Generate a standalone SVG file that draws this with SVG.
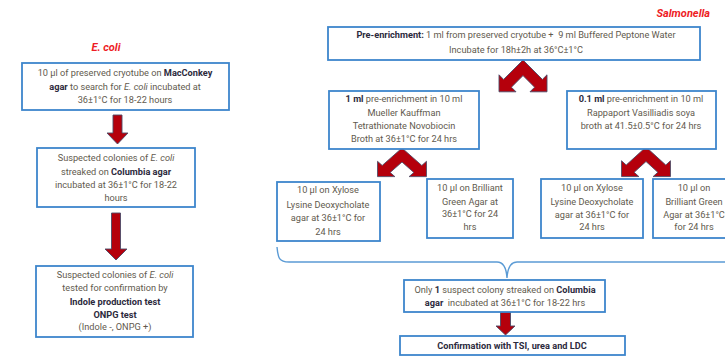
<svg xmlns="http://www.w3.org/2000/svg" width="725" height="356" viewBox="0 0 725 356">
<style>
.box{fill:#fff;stroke:#3d86cc;stroke-width:1.8}
.t{font-family:Roboto,"Liberation Sans",sans-serif;font-size:9.2px;fill:#625a4e;text-anchor:middle}
.b{font-weight:bold;fill:#2c2a3c}
.i{font-style:italic}
.title{font-family:Roboto,"Liberation Sans",sans-serif;font-size:11px;font-weight:bold;font-style:italic;fill:#ee1c25}
.arr{fill:#b5000c;stroke:#4c4a66;stroke-width:0.9}
.brace{fill:none;stroke:#5b9bd5;stroke-width:1.4}
</style>
<defs>
<polygon id="chev" points="0,0 19.4,19.4 24,14.8 24,31.8 7,31.8 11.6,27.2 0,15.6 -11.6,27.2 -7,31.8 -24,31.8 -24,14.8 -19.4,19.4"/>
</defs>
<rect width="725" height="356" fill="#fff"/>

<g id="titles">
<text class="title" x="106" y="51" text-anchor="middle">E. coli</text>
<text class="title" x="710" y="17" text-anchor="end">Salmonella</text>
</g>

<g id="connectors">
<polygon class="arr" points="113,115 122,115 122,133 128,133 117.5,144 107,133 113,133"/>
<polygon class="arr" points="111.5,213 120.5,213 120.5,249 127,249 116,260 105,249 111.5,249"/>
<polygon class="arr" points="500.5,312 510.5,312 510.5,326 515,326 505.5,335 496,326 500.5,326"/>
<use href="#chev" class="arr" transform="translate(523,60)"/>
<use href="#chev" class="arr" transform="translate(402,148) scale(1.02,0.9)"/>
<use href="#chev" class="arr" transform="translate(646,147) scale(1.02,0.93)"/>
<path class="brace" d="M277,247 C278,258 279,262 289,262 L497,262 Q506,262 507,278 Q508,262 517,262 L725,262"/>
</g>

<g id="ecoli1">
<rect class="box" x="22" y="63" width="207" height="47"/>
<text class="t" x="125" y="76">10 µl of preserved cryotube on <tspan class="b">MacConkey</tspan></text>
<text class="t" x="125" y="90"><tspan class="b">agar</tspan> to search for <tspan class="i">E. coli</tspan> incubated at</text>
<text class="t" x="125" y="103">36±1°C for 18-22 hours</text>
</g>

<g id="ecoli2">
<rect class="box" x="37" y="148" width="158" height="59"/>
<text class="t" x="116" y="161">Suspected colonies of <tspan class="i">E. coli</tspan></text>
<text class="t" x="116" y="175">streaked on <tspan class="b">Columbia agar</tspan></text>
<text class="t" x="116" y="188">incubated at 36±1°C for 18-22</text>
<text class="t" x="116" y="201">hours</text>
</g>

<g id="ecoli3">
<rect class="box" x="36" y="266" width="157" height="71"/>
<text class="t" x="115" y="278">Suspected colonies of <tspan class="i">E. coli</tspan></text>
<text class="t" x="115" y="291">tested for confirmation by</text>
<text class="t b" x="115" y="305">Indole production test</text>
<text class="t b" x="115" y="318">ONPG test</text>
<text class="t" x="115" y="330">(Indole -, ONPG +)</text>
</g>

<g id="preenrich">
<rect class="box" x="328" y="27" width="372" height="33"/>
<text class="t" x="516" y="38"><tspan class="b">Pre-enrichment:</tspan> 1 ml from preserved cryotube + &#160;9 ml Buffered Peptone Water</text>
<text class="t" x="516" y="53">Incubate for 18h±2h at 36°C±1°C</text>
</g>

<g id="mkttn">
<rect class="box" x="329" y="91" width="150" height="58"/>
<text class="t" x="404" y="102"><tspan class="b">1 ml</tspan> pre-enrichment in 10 ml</text>
<text class="t" x="404" y="116">Mueller Kauffman</text>
<text class="t" x="404" y="129">Tetrathionate Novobiocin</text>
<text class="t" x="404" y="142">Broth at 36±1°C for 24 hrs</text>
</g>

<g id="rvs">
<rect class="box" x="567" y="91" width="149" height="58"/>
<text class="t" x="641" y="102"><tspan class="b">0.1 ml</tspan> pre-enrichment in 10 ml</text>
<text class="t" x="641" y="116">Rappaport Vasilliadis soya</text>
<text class="t" x="641" y="129">broth at 41.5±0.5°C for 24 hrs</text>
</g>

<g id="xld1">
<rect class="box" x="277" y="182" width="103" height="59"/>
<text class="t" x="328" y="193">10 µl on Xylose</text>
<text class="t" x="328" y="208">Lysine Deoxycholate</text>
<text class="t" x="328" y="221">agar at 36±1°C for</text>
<text class="t" x="328" y="235">24 hrs</text>
</g>

<g id="bga1">
<rect class="box" x="427" y="179" width="86" height="59"/>
<text class="t" x="470" y="191">10 µl on Brilliant</text>
<text class="t" x="470" y="205">Green Agar at</text>
<text class="t" x="470" y="217">36±1°C for 24</text>
<text class="t" x="470" y="230">hrs</text>
</g>

<g id="xld2">
<rect class="box" x="541" y="179" width="102" height="59"/>
<text class="t" x="592" y="191">10 µl on Xylose</text>
<text class="t" x="592" y="205">Lysine Deoxycholate</text>
<text class="t" x="592" y="218">agar at 36±1°C for</text>
<text class="t" x="592" y="230">24 hrs</text>
</g>

<g id="bga2">
<rect class="box" x="653" y="179" width="90" height="59"/>
<text class="t" x="694" y="191">10 µl on</text>
<text class="t" x="694" y="205">Brilliant Green</text>
<text class="t" x="694" y="218">Agar at 36±1°C</text>
<text class="t" x="694" y="230">for 24 hrs</text>
</g>

<g id="columbia">
<rect class="box" x="404" y="280" width="201" height="32"/>
<text class="t" x="505" y="293">Only <tspan class="b">1</tspan> suspect colony streaked on <tspan class="b">Columbia</tspan></text>
<text class="t" x="505" y="306"><tspan class="b">agar</tspan> &#160;incubated at 36±1°C for 18-22 hrs</text>
</g>

<g id="confirm">
<rect class="box" x="400" y="336" width="225" height="19"/>
<text class="t b" x="512" y="349">Confirmation with TSI, urea and LDC</text>
</g>
</svg>
